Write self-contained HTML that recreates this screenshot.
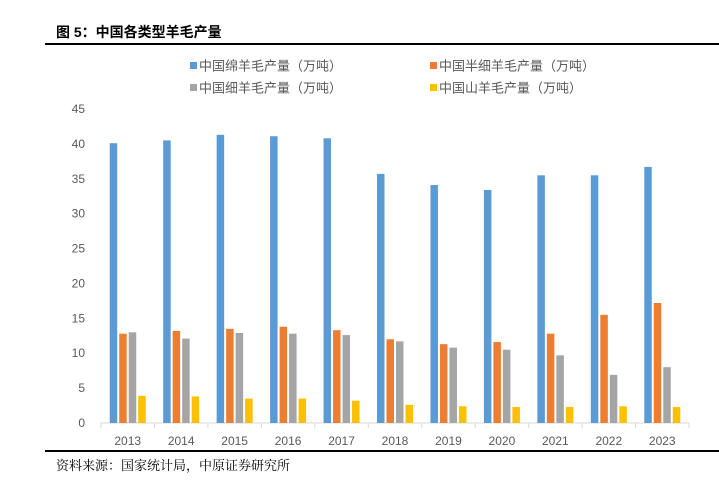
<!DOCTYPE html>
<html><head><meta charset="utf-8"><style>
body{margin:0;background:#fff;width:719px;height:487px;overflow:hidden;font-family:"Liberation Sans","Noto Sans CJK SC",sans-serif}
</style></head><body>
<svg width="719" height="487" xmlns="http://www.w3.org/2000/svg">
<text x="56" y="37" font-size="14" font-weight="bold" fill="#000" font-family="Liberation Sans,Noto Sans CJK SC,sans-serif">图 5：中国各类型羊毛产量</text>
<line x1="45" y1="44" x2="719" y2="44" stroke="#000" stroke-width="2"/>
<line x1="45" y1="451" x2="719" y2="451" stroke="#000" stroke-width="2"/>
<text x="56" y="470" font-size="13" fill="#000" font-family="Liberation Serif,Noto Serif CJK SC,serif">资料来源：国家统计局，中原证券研究所</text>
<g id="legend" font-size="13" fill="#595959"></g>
<g id="axes" font-size="12" fill="#595959"></g>
<g id="bars"></g>
</svg>
<script>
const categories=["2013","2014","2015","2016","2017","2018","2019","2020","2021","2022","2023"];
const seriesNames=["中国绵羊毛产量（万吨）","中国半细羊毛产量（万吨）","中国细羊毛产量（万吨）","中国山羊毛产量（万吨）"];
const sheepWool=[40.1,40.5,41.3,41.1,40.8,35.7,34.1,33.4,35.5,35.5,36.7];
const semiFineWool=[12.8,13.2,13.5,13.8,13.3,12.0,11.3,11.6,12.8,15.5,17.2];
const fineWool=[13.0,12.1,12.9,12.8,12.6,11.7,10.8,10.5,9.7,6.9,8.0];
const goatWool=[3.9,3.8,3.5,3.5,3.2,2.6,2.4,2.3,2.3,2.4,2.3];
const yTicks=[0,5,10,15,20,25,30,35,40,45];
const colors=["#5b9bd5","#ed7d31","#a5a5a5","#ffc000"];
const NS="http://www.w3.org/2000/svg";
const x0=101,x1=689,y0=423,yTop=109,yMax=45;
const bw=(x1-x0)/categories.length;
const y=v=>y0-(v/yMax)*(y0-yTop);
const xc=i=>x0+bw*(i+0.5);
function mk(t,a,p){const e=document.createElementNS(NS,t);for(const k in a)e.setAttribute(k,a[k]);p.appendChild(e);return e;}
const axes=document.getElementById('axes'),bars=document.getElementById('bars'),legend=document.getElementById('legend');
yTicks.forEach(v=>{const t=mk('text',{x:85,y:y(v)+4,'text-anchor':'end'},axes);t.textContent=v;

});
const ax=mk('line',{x1:x0,y1:y0,x2:x1,y2:y0,stroke:'#d9d9d9'},axes);


for(let i=0;i<=categories.length;i++){const tk=mk('line',{x1:x0+bw*i,y1:y0,x2:x0+bw*i,y2:y0+5,stroke:'#d9d9d9'},axes);

}
categories.forEach((c,i)=>{const t=mk('text',{x:xc(i),y:445,'text-anchor':'middle'},axes);t.textContent=c;

});
const series=[sheepWool,semiFineWool,fineWool,goatWool];
const offs=[-14.25,-4.75,4.75,14.25],w=7.5;
series.forEach((s,si)=>s.forEach((v,i)=>{const r=mk('rect',{x:xc(i)+offs[si]-w/2,y:y(v),width:w,height:y0-y(v),fill:colors[si]},bars);

}));
const lp=[[190,66],[430,66],[190,88],[430,88]];
seriesNames.forEach((n,i)=>{const g=mk('g',{},legend);


mk('rect',{x:lp[i][0],y:lp[i][1]-4,width:7,height:7,fill:colors[i]},g);
const t=mk('text',{x:lp[i][0]+9,y:lp[i][1]+4.5},g);t.textContent=n;});
</script>
</body></html>
